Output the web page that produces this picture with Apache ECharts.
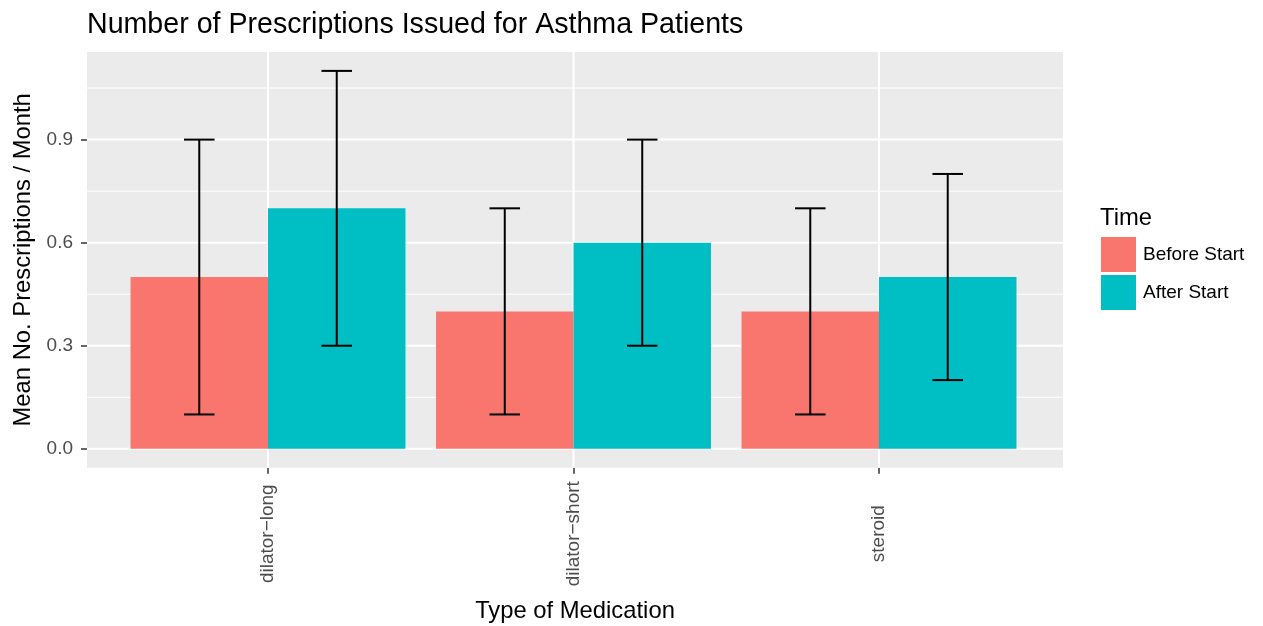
<!DOCTYPE html>
<html><head><meta charset="utf-8">
<script src="https://cdn.jsdelivr.net/npm/echarts@6/dist/echarts.min.js"></script>
<style>html,body{margin:0;padding:0;background:#fff}#c{width:1263px;height:626px}</style>
</head><body><div id="c"></div>
<script>
// ---- data ----
const categories = ['dilator\u2212long', 'dilator\u2212short', 'steroid'];
const groups = ['Before Start', 'After Start'];
const beforeMean = [0.5, 0.4, 0.4];
const beforeLow  = [0.1, 0.1, 0.1];
const beforeHigh = [0.9, 0.7, 0.7];
const afterMean  = [0.7, 0.6, 0.5];
const afterLow   = [0.3, 0.3, 0.2];
const afterHigh  = [1.1, 0.9, 0.8];
const yMajorTicks = [0, 0.3, 0.6, 0.9];
const yMinorTicks = [0.15, 0.45, 0.75, 1.05];
const xTicks = [0, 1, 2];

// ---- style ----
const colors = ['#F8766D', '#00BFC4'];
const FONT = 'Liberation Sans, Arial, sans-serif';
const dodge = 0.45;     // bar width in category units
const capHalf = 0.05;   // half error-bar cap width

const chart = echarts.init(document.getElementById('c'), null, {renderer: 'canvas'});

function barSeries(gi, values) {
  return {
    type: 'custom', name: groups[gi], coordinateSystem: 'cartesian2d', z: 2,
    itemStyle: {color: colors[gi]},
    data: values.map((v, i) => [i, v]),
    encode: {x: 0, y: 1},
    renderItem: (params, api) => {
      const i = api.value(0), v = api.value(1);
      const x0 = i + (gi === 0 ? -dodge : 0), x1 = x0 + dodge;
      const p0 = api.coord([x0, v]), p1 = api.coord([x1, 0]);
      return {type: 'rect', shape: {x: p0[0], y: p0[1], width: p1[0] - p0[0], height: p1[1] - p0[1]},
        style: {fill: colors[gi]}};
    }
  };
}

const errData = [];
categories.forEach((c, i) => {
  errData.push([i, beforeLow[i], beforeHigh[i], 0]);
  errData.push([i, afterLow[i], afterHigh[i], 1]);
});

const option = {
  animation: false,
  backgroundColor: '#ffffff',
  title: [
    {text: 'Number of Prescriptions Issued for Asthma Patients', left: 82, top: 6,
     textStyle: {fontFamily: FONT, fontSize: 28.6, fontWeight: 'normal', color: '#000'}},
    {text: 'Time', left: 1095, top: 201,
     textStyle: {fontFamily: FONT, fontSize: 23.8, fontWeight: 'normal', color: '#000'}}
  ],
  legend: {
    data: groups, orient: 'vertical', left: 1096, top: 232, icon: 'rect',
    itemWidth: 35, itemHeight: 35, itemGap: 3, selectedMode: false,
    textStyle: {fontFamily: FONT, fontSize: 19, color: '#000', padding: [0, 0, 0, 2]}
  },
  grid: {left: 87, top: 52, right: 200, bottom: 158.3, show: true, outerBoundsMode: 'none',
         containLabel: false, backgroundColor: '#EBEBEB', borderWidth: 0},
  xAxis: {
    type: 'value', min: -0.5925, max: 2.6023,
    name: 'Type of Medication', nameLocation: 'middle', nameGap: 132,
    nameTextStyle: {fontFamily: FONT, fontSize: 23.8, color: '#000'},
    axisLine: {show: true, onZero: false, lineStyle: {color: 'rgba(0,0,0,0)'}}, splitLine: {show: false},
    axisTick: {show: true, customValues: xTicks, length: 6, lineStyle: {color: '#333333', width: 1.5}},
    axisLabel: {customValues: xTicks, rotate: 90, align: 'center', verticalAlign: 'middle', margin: 66,
      formatter: v => categories[Math.round(v)] || '',
      fontFamily: FONT, fontSize: 19, color: '#4D4D4D'}
  },
  yAxis: {
    type: 'value', min: -0.055, max: 1.155,
    name: 'Mean No. Prescriptions / Month', nameLocation: 'middle', nameGap: 52,
    nameTextStyle: {fontFamily: FONT, fontSize: 23.8, color: '#000'},
    axisLine: {show: true, onZero: false, lineStyle: {color: 'rgba(0,0,0,0)'}}, splitLine: {show: false},
    axisTick: {show: true, customValues: yMajorTicks, length: 6, lineStyle: {color: '#333333', width: 1.5}},
    axisLabel: {customValues: yMajorTicks, margin: 14, formatter: v => v.toFixed(1),
      fontFamily: FONT, fontSize: 19, color: '#4D4D4D'}
  },
  series: [
    {
      type: 'custom', name: 'grid', coordinateSystem: 'cartesian2d', z: 1, silent: true,
      data: [[0, 0]],
      renderItem: (params, api) => {
        const cs = params.coordSys;
        const children = [];
        yMinorTicks.forEach(t => {
          const y = api.coord([0, t])[1];
          children.push({type: 'line', shape: {x1: cs.x, y1: y, x2: cs.x + cs.width, y2: y},
            style: {stroke: '#ffffff', lineWidth: 1}});
        });
        yMajorTicks.forEach(t => {
          const y = api.coord([0, t])[1];
          children.push({type: 'line', shape: {x1: cs.x, y1: y, x2: cs.x + cs.width, y2: y},
            style: {stroke: '#ffffff', lineWidth: 2}});
        });
        xTicks.forEach(t => {
          const x = api.coord([t, 0])[0];
          children.push({type: 'line', shape: {x1: x, y1: cs.y, x2: x, y2: cs.y + cs.height},
            style: {stroke: '#ffffff', lineWidth: 2}});
        });
        return {type: 'group', children};
      }
    },
    barSeries(0, beforeMean),
    barSeries(1, afterMean),
    {
      type: 'custom', name: 'errorbars', coordinateSystem: 'cartesian2d', z: 3, silent: true,
      data: errData,
      encode: {x: 0, y: [1, 2]},
      renderItem: (params, api) => {
        const i = api.value(0), lo = api.value(1), hi = api.value(2), g = api.value(3);
        const xc = i + (g === 0 ? -dodge / 2 : dodge / 2);
        const pLo = api.coord([xc, lo]), pHi = api.coord([xc, hi]);
        const l = api.coord([xc - capHalf, lo])[0], r = api.coord([xc + capHalf, lo])[0];
        const st = {stroke: '#000', lineWidth: 2};
        return {type: 'group', children: [
          {type: 'line', shape: {x1: pLo[0], y1: pLo[1], x2: pHi[0], y2: pHi[1]}, style: st},
          {type: 'line', shape: {x1: l, y1: pLo[1], x2: r, y2: pLo[1]}, style: st},
          {type: 'line', shape: {x1: l, y1: pHi[1], x2: r, y2: pHi[1]}, style: st}
        ]};
      }
    }
  ]
};
chart.setOption(option);
</script>
</body></html>
